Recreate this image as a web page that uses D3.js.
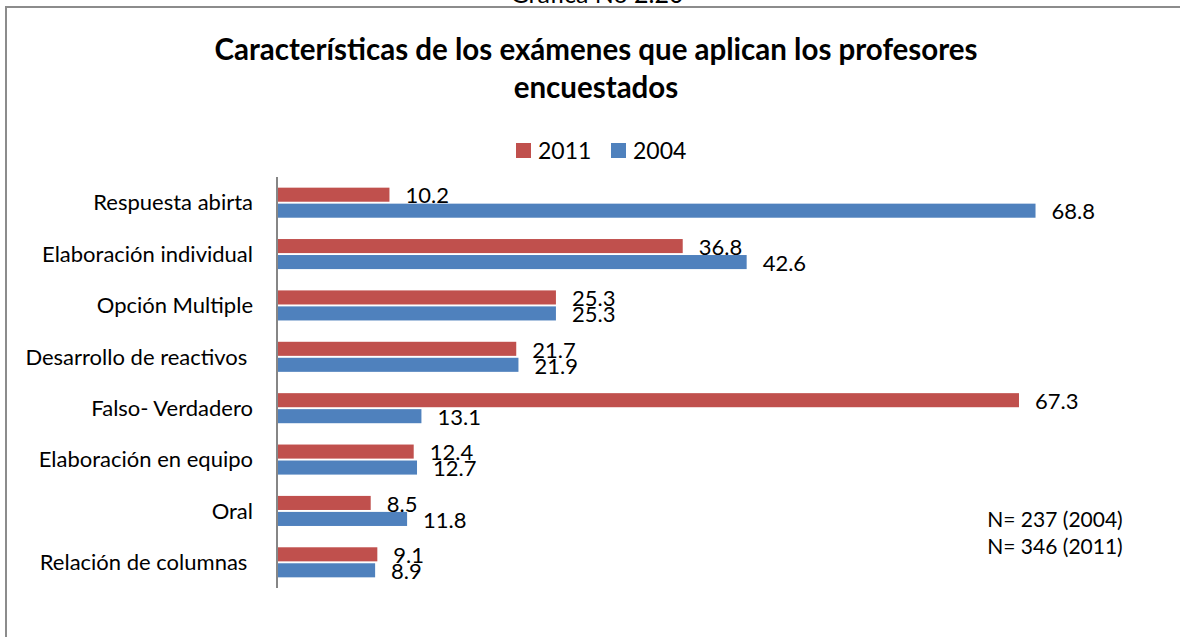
<!DOCTYPE html>
<html>
<head>
<meta charset="utf-8">
<script src="https://cdn.jsdelivr.net/npm/d3@7"></script>
<style>
  html, body { margin: 0; padding: 0; background: #fff; overflow: hidden; }
  #chart { position: absolute; left: 0; top: 0; }
  svg { display: block; }
</style>
</head>
<body>
<div id="chart"></div>
<script>
const categories = [
  'Respuesta abirta',
  'Elaboración individual',
  'Opción Multiple',
  'Desarrollo de reactivos ',
  'Falso- Verdadero',
  'Elaboración en equipo',
  'Oral',
  'Relación de columnas '
]
const values2011 = [10.2, 36.8, 25.3, 21.7, 67.3, 12.4, 8.5, 9.1]
const values2004 = [68.8, 42.6, 25.3, 21.9, 13.1, 12.7, 11.8, 8.9]
const seriesNames = ['2011', '2004']
const notes = ['N= 237 (2004)', 'N= 346 (2011)']

const width = 1180
const height = 637
const font = 'Lato, "Open Sans", sans-serif'

const color = d3.scaleOrdinal()
  .domain(seriesNames)
  .range(['#C0504D', '#4F81BD'])

const rows = categories.map((c, i) => ({
  cat: c,
  vals: [
    { key: '2011', v: values2011[i] },
    { key: '2004', v: values2004[i] }
  ]
}))

const svg = d3.select('#chart')
  .append('svg')
  .attr('width', width)
  .attr('height', height)

// frame: only the top and left edges are inside the picture
svg.append('line')
  .attr('x1', 6).attr('x2', width + 10)
  .attr('y1', 7).attr('y2', 7)
  .attr('stroke', '#8c8c8c')
  .attr('stroke-width', 2)
svg.append('line')
  .attr('x1', 6).attr('x2', 6)
  .attr('y1', 6).attr('y2', height + 10)
  .attr('stroke', '#8c8c8c')
  .attr('stroke-width', 2)

// caption cut off at the top of the page
svg.append('text')
  .attr('x', 597)
  .attr('y', 3)
  .attr('text-anchor', 'middle')
  .attr('font-family', font)
  .attr('font-size', 25)
  .attr('fill', '#000')
  .text('Gráfica No 2.20')

// title
const title = svg.append('text')
  .attr('text-anchor', 'middle')
  .attr('font-family', font)
  .attr('font-weight', 'bold')
  .attr('font-size', 29.5)
  .attr('fill', '#000')
title.append('tspan').attr('x', 596).attr('y', 60)
  .text('Características de los exámenes que aplican los profesores')
title.append('tspan').attr('x', 596).attr('y', 98)
  .text('encuestados')

// scales
const x = d3.scaleLinear().domain([0, 80]).range([277, 1159])
const y = d3.scaleBand()
  .domain(categories)
  .range([177, 588])
  .paddingInner(0.415)
  .paddingOuter(0.2075)
const ySub = d3.scaleBand()
  .domain(seriesNames)
  .range([0, y.bandwidth()])
  .paddingInner(0.12)

// category labels
svg.selectAll('.cat')
  .data(categories)
  .enter().append('text')
  .attr('class', 'cat')
  .attr('x', 253)
  .attr('y', d => y(d) + y.bandwidth() / 2)
  .attr('dy', '0.35em')
  .attr('text-anchor', 'end')
  .attr('font-family', font)
  .attr('font-size', 22)
  .attr('fill', '#000')
  .style('white-space', 'pre')
  .text(d => d)

// bars
const groups = svg.selectAll('.grp')
  .data(rows)
  .enter().append('g')
  .attr('class', 'grp')
  .attr('transform', d => `translate(0,${y(d.cat)})`)

groups.selectAll('rect')
  .data(d => d.vals)
  .enter().append('rect')
  .attr('x', x(0))
  .attr('y', d => ySub(d.key))
  .attr('width', d => x(d.v) - x(0))
  .attr('height', ySub.bandwidth())
  .attr('fill', d => color(d.key))

groups.selectAll('.val')
  .data(d => d.vals)
  .enter().append('text')
  .attr('class', 'val')
  .attr('x', d => x(d.v) + 16)
  .attr('y', d => ySub(d.key) + ySub.bandwidth() / 2 + 1)
  .attr('dy', '0.35em')
  .attr('font-family', font)
  .attr('font-size', 22)
  .attr('fill', '#000')
  .text(d => d.v.toFixed(1))

// axis line
svg.append('line')
  .attr('x1', x(0)).attr('x2', x(0))
  .attr('y1', y.range()[0]).attr('y2', y.range()[1])
  .attr('stroke', '#868686')
  .attr('stroke-width', 2)

// legend
const legend = svg.selectAll('.legend')
  .data(seriesNames)
  .enter().append('g')
  .attr('class', 'legend')
  .attr('transform', (_, i) => `translate(${516 + i * 95},143)`)

legend.append('rect')
  .attr('width', 15)
  .attr('height', 15)
  .attr('fill', d => color(d))

legend.append('text')
  .attr('x', 22)
  .attr('y', 8)
  .attr('dy', '0.35em')
  .attr('font-family', font)
  .attr('font-size', 23)
  .attr('fill', '#000')
  .text(d => d)

// sample size notes
svg.selectAll('.note')
  .data(notes)
  .enter().append('text')
  .attr('class', 'note')
  .attr('x', 1055)
  .attr('y', (_, i) => 520 + i * 27)
  .attr('dy', '0.35em')
  .attr('text-anchor', 'middle')
  .attr('font-family', font)
  .attr('font-size', 21)
  .attr('fill', '#000')
  .text(d => d)
</script>
</body>
</html>
